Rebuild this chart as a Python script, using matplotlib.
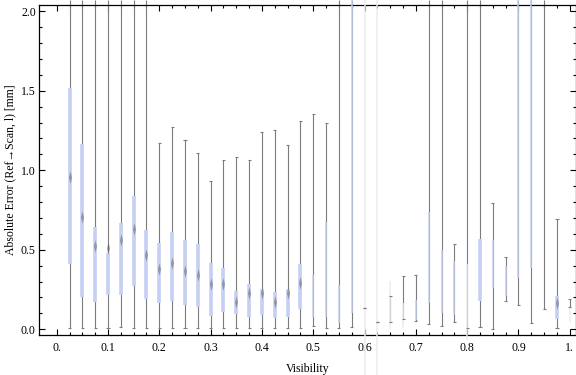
import numpy as np
import matplotlib
matplotlib.use("Agg")
import matplotlib.pyplot as plt
from matplotlib.path import Path

# Box-whisker summary per visibility bin
visibility = [0.025, 0.05, 0.075, 0.1, 0.125, 0.15, 0.175, 0.2, 0.225, 0.25,
              0.275, 0.3, 0.325, 0.35, 0.375, 0.4, 0.425, 0.45, 0.475, 0.5,
              0.525, 0.55, 0.575, 0.6, 0.625, 0.65, 0.675, 0.7, 0.725, 0.75,
              0.775, 0.8, 0.825, 0.85, 0.875, 0.9, 0.925, 0.95, 0.975, 1.0]
whisker_lo = [0.010, 0.006, 0.006, 0.006, 0.013, 0.006, 0.006, 0.006, 0.006, 0.006,
              0.006, 0.006, 0.006, 0.006, 0.006, 0.006, 0.006, 0.006, 0.006, 0.020,
              0.006, 0.006, 0.012, 0.132, 0.046, 0.046, 0.063, 0.050, 0.033, 0.023,
              0.048, 0.006, 0.016, 0.002, 0.180, 0.153, 0.042, 0.128, 0.006, 0.142]
box_q1 = [0.409, 0.205, 0.172, 0.216, 0.216, 0.274, 0.189, 0.167, 0.180, 0.151,
          0.142, 0.086, 0.109, 0.096, 0.079, 0.092, 0.073, 0.079, 0.130, 0.079,
          0.079, 0.038, 0.104, -0.29, -0.29, 0.000, 0.010, 0.058, 0.167, 0.104,
          0.090, -0.07, 0.180, 0.258, 0.209, 0.321, 0.384, 0.128, 0.063, 0.048]
box_median = [0.960, 0.708, 0.526, 0.513, 0.562, 0.630, 0.467, 0.381, 0.417, 0.369,
              0.341, 0.283, 0.283, 0.174, 0.226, 0.226, 0.174, 0.226, 0.289, np.nan,
              np.nan, np.nan, np.nan, np.nan, np.nan, np.nan, np.nan, np.nan, np.nan, np.nan,
              np.nan, np.nan, np.nan, np.nan, np.nan, np.nan, np.nan, np.nan, 0.163, np.nan]
box_q3 = [1.518, 1.165, 0.643, 0.482, 0.670, 0.838, 0.625, 0.543, 0.610, 0.562,
          0.536, 0.417, 0.384, 0.241, 0.285, 0.253, 0.235, 0.253, 0.411, 0.342,
          0.677, 0.279, 2.07, 2.07, 2.07, 0.304, 0.167, 0.184, 0.738, 0.499,
          0.431, 0.410, 0.568, 0.562, 0.398, 2.07, 2.07, 0.128, 0.209, 0.142]
whisker_hi = [2.07, 2.07, 2.07, 2.07, 2.07, 2.07, 2.07, 1.170, 1.272, 1.190,
              1.107, 0.933, 1.063, 1.084, 1.065, 1.241, 1.253, 1.159, 1.310, 1.354,
              1.298, 2.07, 2.07, 0.132, 0.046, 0.208, 0.335, 0.342, 2.07, 2.07,
              0.536, 2.07, 2.07, 0.792, 0.455, 2.07, 2.07, 2.07, 0.692, 0.190]

# drawing style of each box: b = filled box, t = thin box, f = faded box
box_kind = ["b"] * 19 + ["t", "t", "t", "t", "f", "f", "f", "f", "t", "t",
                         "t", "t", "f", "b", "t", "t", "t", "t", "t", "b", "f"]

gray = "#7c7c7c"
blue = "#c6cff4"
faint = "#ececec"
kind_color = {"b": blue, "t": blue, "f": faint}
kind_width = {"b": 2.6, "t": 1.1, "f": 1.1}

plt.rcParams["font.family"] = ["Liberation Serif", "DejaVu Serif"]

fig = plt.figure(figsize=(5.76, 3.75), dpi=100)
ax = fig.add_axes([0.0682, 0.1059, 0.9313, 0.8816])

# whiskers first, boxes on top
ax.vlines(visibility, whisker_lo, whisker_hi, colors=gray, linewidth=0.8,
          zorder=2, clip_on=False)
for k in "btf":
    xs = [x for x, kk in zip(visibility, box_kind) if kk == k]
    lo = [q for q, kk in zip(box_q1, box_kind) if kk == k]
    hi = [q for q, kk in zip(box_q3, box_kind) if kk == k]
    lc = ax.vlines(xs, lo, hi, colors=kind_color[k], linewidth=kind_width[k],
                   zorder=3, clip_on=False)
    lc.set_capstyle("butt")

# whisker caps
cap = 0.003
for x, lo, hi in zip(visibility, whisker_lo, whisker_hi):
    for v in (lo, hi):
        if v < 2.0:
            ax.hlines(v, x - cap, x + cap, colors=gray, linewidth=0.8, zorder=4)

# median marks (soft narrow diamonds)
diamond = Path([(0, -1), (0.25, 0), (0, 1), (-0.25, 0), (0, -1)],
               [Path.MOVETO, Path.LINETO, Path.LINETO, Path.LINETO, Path.CLOSEPOLY])
ax.plot(visibility, box_median, linestyle="none", marker=diamond, markersize=9,
        color="#666666", alpha=0.55, markeredgewidth=0, zorder=5)

ax.set_xlim(-0.0339, 1.0115)
ax.set_ylim(-0.0377, 2.0415)

ax.set_xticks([0, 0.1, 0.2, 0.3, 0.4, 0.5, 0.6, 0.7, 0.8, 0.9, 1.0])
ax.set_xticklabels(["0.", "0.1", "0.2", "0.3", "0.4", "0.5", "0.6", "0.7",
                    "0.8", "0.9", "1."])
ax.set_xticks(np.arange(0, 1.001, 0.025), minor=True)
ax.set_yticks([0.0, 0.5, 1.0, 1.5, 2.0])
ax.set_yticklabels(["0.0", "0.5", "1.0", "1.5", "2.0"])
ax.set_yticks(np.arange(0, 2.001, 0.1), minor=True)

ax.tick_params(which="both", direction="in", top=True, right=True,
               labelsize=8.5, width=0.8, color="black")
ax.tick_params(which="major", length=4)
ax.tick_params(which="minor", length=2.5)
ax.tick_params(axis="x", pad=5)
ax.tick_params(axis="y", pad=2.5)
for s in ax.spines.values():
    s.set_linewidth(0.9)

ax.set_xlabel("Visibility", fontsize=8.5, labelpad=6)
ax.set_ylabel("Absolute Error (Ref\u2192Scan, l) [mm]", fontsize=8.5, labelpad=3)

fig.savefig("out.png", dpi=100)
